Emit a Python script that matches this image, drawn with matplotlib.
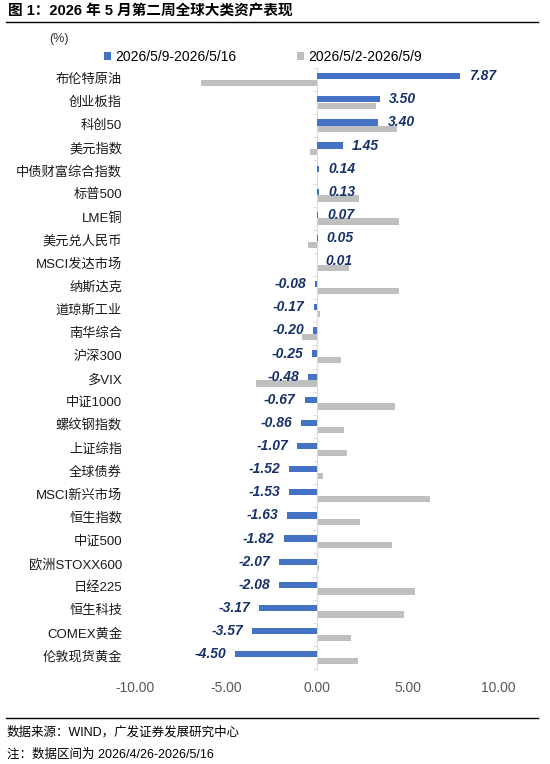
"""Weekly global asset class performance, horizontal clustered bars."""

import matplotlib

matplotlib.use("Agg")
import matplotlib.pyplot as plt
import numpy as np

plt.rcParams["font.family"] = ["Liberation Sans", "Noto Sans CJK SC", "DejaVu Sans"]

# data
categories = [
    "布伦特原油", "创业板指", "科创50", "美元指数", "中债财富综合指数", "标普500",
    "LME铜", "美元兑人民币", "MSCI发达市场", "纳斯达克", "道琼斯工业", "南华综合",
    "沪深300", "多VIX", "中证1000", "螺纹钢指数", "上证综指", "全球债券",
    "MSCI新兴市场", "恒生指数", "中证500", "欧洲STOXX600", "日经225", "恒生科技",
    "COMEX黄金", "伦敦现货黄金",
]
this_week = [
    7.87, 3.50, 3.40, 1.45, 0.14, 0.13, 0.07, 0.05, 0.01, -0.08, -0.17, -0.20,
    -0.25, -0.48, -0.67, -0.86, -1.07, -1.52, -1.53, -1.63, -1.82, -2.07, -2.08,
    -3.17, -3.57, -4.50,
]
last_week = [
    -6.40, 3.28, 4.45, -0.37, 0.0, 2.35, 4.55, -0.47, 1.79, 4.55, 0.20, -0.83,
    1.33, -3.37, 4.31, 1.50, 1.67, 0.37, 6.22, 2.40, 4.16, 0.15, 5.40, 4.79,
    1.87, 2.25,
]
series_names = ["2026/5/9-2026/5/16", "2026/5/2-2026/5/9"]
x_ticks = [-10, -5, 0, 5, 10]

BLUE = "#4472C4"
GRAY = "#BFBFBF"
NAVY = "#17306B"

fig = plt.figure(figsize=(5.5, 7.64), dpi=100)
W, H = 550.0, 764.0
top_px, bottom_px = 68.0, 669.0
ax = fig.add_axes([135.2 / W, 1 - bottom_px / H, (498.2 - 135.2) / W, (bottom_px - top_px) / H])

y = np.arange(len(categories))
bar_h = 0.27
ax.barh(y - 0.145, this_week, height=bar_h, color=BLUE, label=series_names[0], zorder=3)
ax.barh(y + 0.145, last_week, height=bar_h, color=GRAY, label=series_names[1], zorder=2)

for yi, v in zip(y, this_week):
    ax.annotate(
        f"{v:.2f}",
        xy=(v, yi - 0.145),
        xytext=(6.5 if v >= 0 else -6.5, 0),
        textcoords="offset points",
        ha="left" if v >= 0 else "right",
        va="center",
        fontsize=10,
        fontweight="bold",
        fontstyle="italic",
        color=NAVY,
        zorder=4,
    )

for yi, name in zip(y, categories):
    ax.text(-0.036, yi, name, transform=ax.get_yaxis_transform(), ha="right",
            va="center", fontsize=9.5, color="#1a1a1a")

ax.set_xlim(-10, 10)
ax.set_ylim(len(categories) - 0.5, -0.5)
ax.set_xticks(x_ticks)
ax.set_xticklabels([f"{t:.2f}" for t in x_ticks], fontsize=10, color="#595959")
ax.tick_params(axis="x", length=0, pad=9)

# category axis crosses at zero, Excel style
ax.spines["left"].set_position(("data", 0))
ax.spines["left"].set_color("#D9D9D9")
ax.set_yticks([])
ax.set_yticks(np.arange(-0.5, len(categories), 1.0), minor=True)
ax.tick_params(axis="y", which="minor", length=3, color="#D9D9D9", direction="out")
for side in ("top", "right", "bottom"):
    ax.spines[side].set_visible(False)

fig.legend(
    loc="center left",
    bbox_to_anchor=(104 / W, 1 - 57 / H),
    ncol=2,
    frameon=False,
    fontsize=10,
    handlelength=0.5,
    handleheight=0.5,
    handletextpad=0.3,
    columnspacing=4.4,
    borderpad=0,
    borderaxespad=0,
)

fig.text(8 / W, 1 - 11 / H, "图 1：2026 年 5 月第二周全球大类资产表现", fontsize=10.5,
         fontweight="bold", va="center", ha="left")
fig.add_artist(plt.Line2D([6 / W, 538 / W], [1 - 22 / H, 1 - 22 / H], color="black", lw=1))
fig.text(49 / W, 1 - 39 / H, "(%)", fontsize=9, va="center", ha="left", color="#333333")

fig.add_artist(plt.Line2D([6 / W, 538 / W], [1 - 718 / H, 1 - 718 / H], color="black", lw=1))
fig.text(7 / W, 1 - 732 / H, "数据来源：WIND，广发证券发展研究中心", fontsize=9,
         va="center", ha="left")
fig.text(7 / W, 1 - 755 / H, "注：数据区间为 2026/4/26-2026/5/16", fontsize=9,
         va="center", ha="left")

fig.savefig("out.png", dpi=100)
